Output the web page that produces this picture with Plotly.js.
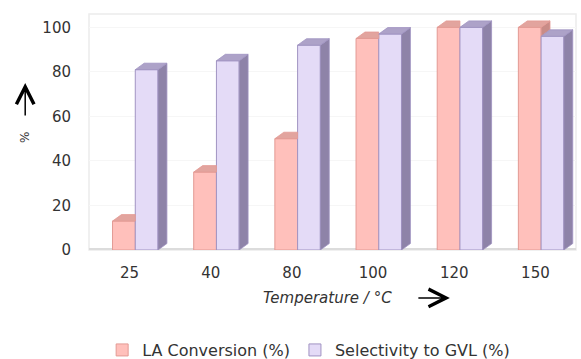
<!DOCTYPE html>
<html>
<head>
<meta charset="utf-8">
<script src="https://cdn.plot.ly/plotly-3.0.1.min.js"></script>
<style>html,body{margin:0;padding:0;background:#fff;}#chart{width:581px;height:359px;}</style>
</head>
<body>
<div id="chart"></div>
<script>
// ---- data ----
const categories = ['25', '40', '80', '100', '120', '150'];
const laConversion = [13, 35, 50, 95, 100, 100];
const selectivityGVL = [81, 85, 92, 97, 100, 96];
const yTicks = [0, 20, 40, 60, 80, 100];
const seriesNames = ['LA Conversion (%)', 'Selectivity to GVL (%)'];

// ---- style constants ----
const W = 0.28, LA_OFF = -0.21, SEL_OFF = 0.07, DX = 0.11, DY = 2.9;
const laFront = '#FFC0BB', laLine = '#E39A94', laTop = '#E2A49E', laSide = '#C98C87';
const selFront = '#E4DBF7', selLine = '#A093C2', selTop = '#ADA2C8', selSide = '#8E83A8';
const idx = categories.map((c, i) => i);

const traces = [
  {type: 'bar', name: seriesNames[0], x: idx, y: laConversion, offset: LA_OFF, width: W,
   marker: {color: laFront, line: {color: laLine, width: 1}}, hoverinfo: 'y'},
  {type: 'bar', name: seriesNames[1], x: idx, y: selectivityGVL, offset: SEL_OFF, width: W,
   marker: {color: selFront, line: {color: selLine, width: 1}}, hoverinfo: 'y'}
];

function poly(xs, ys, color, line) {
  return {type: 'scatter', mode: 'lines', x: xs.concat([xs[0]]), y: ys.concat([ys[0]]),
          fill: 'toself', fillcolor: color, line: {color: line, width: 0.8},
          showlegend: false, hoverinfo: 'skip'};
}

idx.forEach(i => {
  const la = laConversion[i], sel = selectivityGVL[i];
  const a0 = i + LA_OFF, a1 = a0 + W;
  const b0 = i + SEL_OFF, b1 = b0 + W;
  if (la > sel) {
    traces.push(poly([a1, a1, a1 + DX, a1 + DX], [sel, la, la + DY, sel + DY], laSide, laLine));
    traces.push(poly([a0, a1, a1 + DX, a0 + DX], [la, la, la + DY, la + DY], laTop, laLine));
  } else {
    traces.push(poly([a0, a1, a1, a0 + DX], [la, la, la + DY, la + DY], laTop, laLine));
  }
  traces.push(poly([b1, b1, b1 + DX, b1 + DX], [0, sel, sel + DY, DY], selSide, selLine));
  traces.push(poly([b0, b1, b1 + DX, b0 + DX], [sel, sel, sel + DY, sel + DY], selTop, selLine));
});

const fontFam = 'DejaVu Sans, Arial, sans-serif';
const layout = {
  width: 581, height: 359,
  margin: {l: 89, r: 5, t: 14, b: 109},
  paper_bgcolor: '#ffffff', plot_bgcolor: '#ffffff',
  barmode: 'overlay',
  showlegend: true,
  font: {family: fontFam, color: '#333'},
  xaxis: {
    range: [-0.5, 5.5], tickmode: 'array', tickvals: idx, ticktext: categories,
    showgrid: false, zeroline: false, showline: false,
    ticks: 'outside', ticklen: 9, tickcolor: 'rgba(0,0,0,0)',
    tickfont: {family: fontFam, size: 15, color: '#333'}
  },
  yaxis: {
    range: [0, 106], tickmode: 'array', tickvals: yTicks,
    showgrid: true, gridcolor: '#f6f6f6', zeroline: false, showline: false,
    ticks: 'outside', ticklen: 14, tickcolor: 'rgba(0,0,0,0)',
    tickfont: {family: fontFam, size: 15, color: '#333'}
  },
  legend: {
    orientation: 'h', x: 0.027, xanchor: 'left',
    yref: 'container', y: 0.025, yanchor: 'middle',
    font: {family: fontFam, size: 16, color: '#333'},
    itemwidth: 30, traceorder: 'normal'
  },
  shapes: [
    {type: 'rect', xref: 'paper', yref: 'paper', x0: 0, x1: 1, y0: 0, y1: 1,
     line: {color: '#ececec', width: 1.5}, layer: 'below'},
    {type: 'line', xref: 'paper', yref: 'y', x0: 0, x1: 1, y0: 0, y1: 0,
     line: {color: '#dcdcdc', width: 4}, layer: 'below'}
  ],
  annotations: [
    {xref: 'paper', yref: 'paper', x: -0.131, y: 0.475, text: '%', textangle: -90,
     xanchor: 'center', yanchor: 'middle',
     showarrow: false, font: {family: fontFam, size: 12, color: '#333'}},
    {xref: 'paper', yref: 'paper', x: -0.131, y: 0.708, ax: 0, ay: 34, text: '',
     showarrow: true, arrowhead: 5, arrowsize: 2.3, arrowwidth: 1.5, arrowcolor: '#000'},
    {xref: 'paper', yref: 'paper', x: 0.49, y: -0.203, text: 'Temperature / °C',
     xanchor: 'center', yanchor: 'middle',
     showarrow: false, font: {family: fontFam, size: 15, color: '#333', style: 'italic'}},
    {xref: 'paper', yref: 'paper', x: 0.741, y: -0.203, ax: -33, ay: 0, text: '',
     showarrow: true, arrowhead: 5, arrowsize: 2.3, arrowwidth: 1.5, arrowcolor: '#000'}
  ]
};

Plotly.newPlot('chart', traces, layout, {displayModeBar: false, staticPlot: true});
</script>
</body>
</html>
